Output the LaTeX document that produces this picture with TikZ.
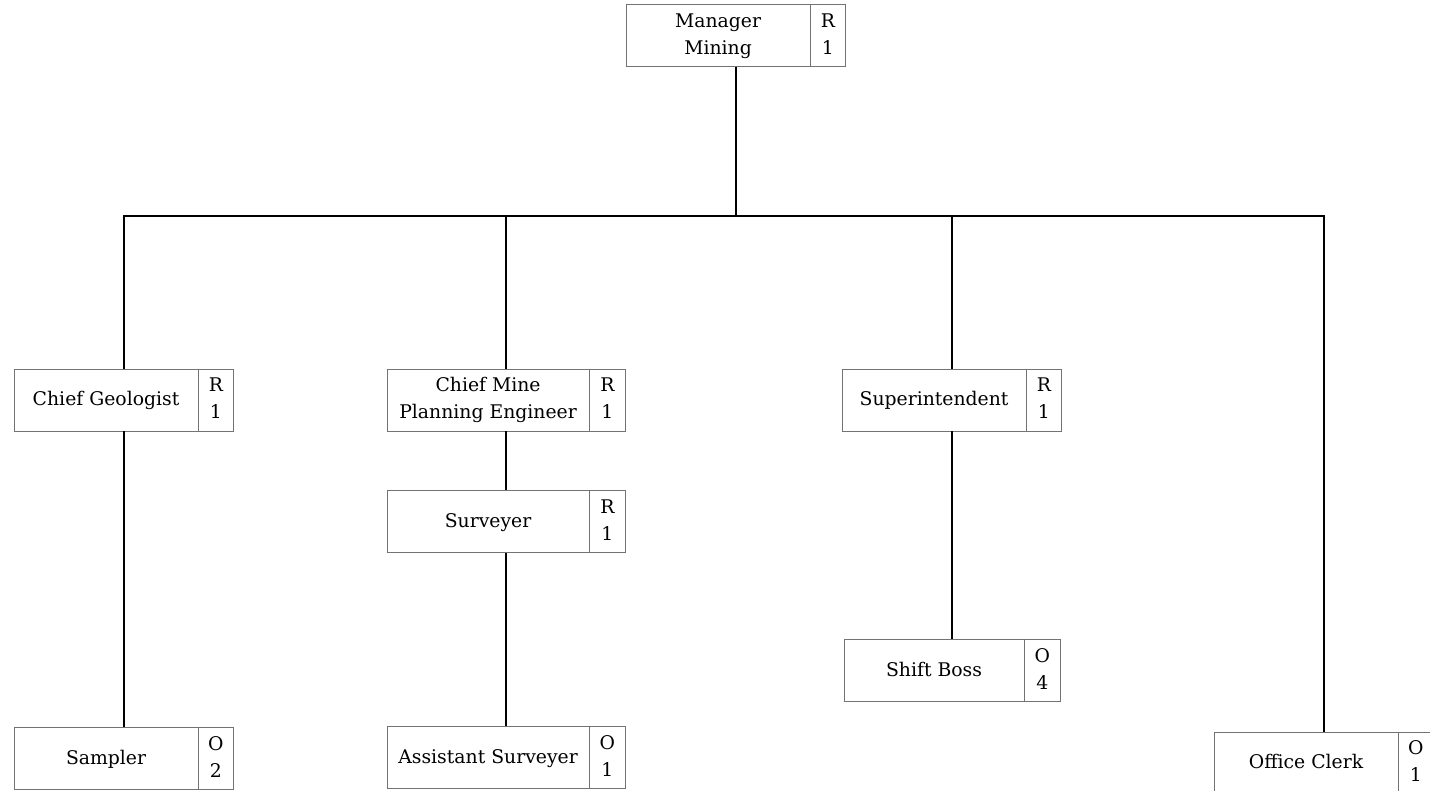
\documentclass[tikz,border=0pt]{standalone}
\usepackage{fontspec}
\setmainfont{DejaVu Serif}
\usetikzlibrary{positioning,shapes.multipart}
\tikzset{
  org/post/.style={rectangle split, rectangle split horizontal, rectangle split parts=2,
    draw=black!55, line width=0.5pt, inner xsep=0pt, inner ysep=0pt,
    minimum height=12.4mm, font=\fontsize{10.7}{15.3}\selectfont},
  org/link/.style={line width=1.5pt}
}
\newcommand\postname[2][36.6mm]{\makebox[#1]{\begin{tabular}{@{}c@{}}#2\end{tabular}}}
\newcommand\postcode[2]{\makebox[7mm]{\begin{tabular}{@{}c@{}}#1\\#2\end{tabular}}}

\begin{document}
\begin{tikzpicture}[x=0.2mm, y=-0.2mm, node distance=12mm]
  \useasboundingbox (0,0) rectangle (1430,790);

  % top of the chart
  \node[org/post] (mgr) at (736,35.5) {\postname{Manager\\Mining}\nodepart{two}\postcode{R}{1}};
  \coordinate (bus) at (0,216);

  % heads of section
  \node[org/post] (geo) at (124,400) {\postname{Chief Geologist}\nodepart{two}\postcode{R}{1}};
  \node[org/post] (cmpe) at (506,400) {\postname[40.4mm]{Chief Mine\\Planning Engineer}\nodepart{two}\postcode{R}{1}};
  \node[org/post] (sup) at (952,400) {\postname{Superintendent}\nodepart{two}\postcode{R}{1}};
  \node[org/post] (clerk) at (1324,763) {\postname{Office Clerk}\nodepart{two}\postcode{O}{1}};

  % staff below them
  \node[org/post, below=59.2mm of geo] (samp) {\postname{Sampler}\nodepart{two}\postcode{O}{2}};
  \node[org/post, below=11.8mm of cmpe] (surv) {\postname[40.4mm]{Surveyer}\nodepart{two}\postcode{R}{1}};
  \node[org/post, below=34.6mm of surv] (asst) {\postname[40.4mm]{Assistant Surveyer}\nodepart{two}\postcode{O}{1}};
  \node[org/post, below=41.6mm of sup] (boss) {\postname[36mm]{Shift Boss}\nodepart{two}\postcode{O}{4}};

  \foreach \c in {geo,cmpe,sup,clerk}
    \draw[org/link] (mgr.south) |- (\c.north |- bus) -- (\c.north);
  \draw[org/link] (geo.south) -- (samp.north);
  \draw[org/link] (cmpe.south) -- (surv.north);
  \draw[org/link] (surv.south) -- (asst.north);
  \draw[org/link] (sup.south) -- (boss.north);
\end{tikzpicture}
\end{document}
